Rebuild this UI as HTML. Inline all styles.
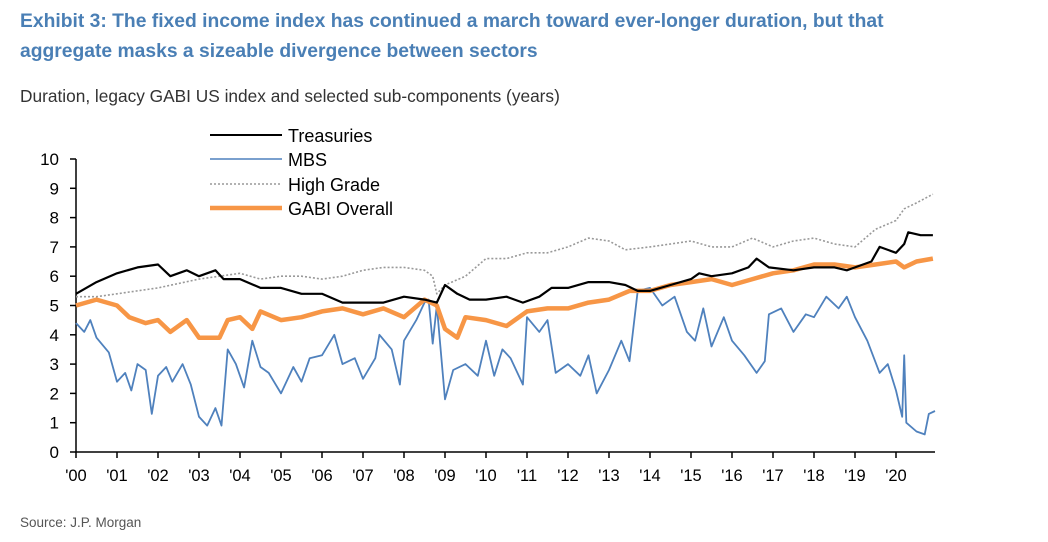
<!DOCTYPE html>
<html><head><meta charset="utf-8">
<style>
body{margin:0;width:1048px;height:542px;background:#fff;font-family:"Liberation Sans",Arial,sans-serif;overflow:hidden;position:relative}
.title{position:absolute;left:20px;top:7px;color:#4a7fb5;font-weight:bold;font-size:19.3px;line-height:30px;white-space:nowrap}
.sub{position:absolute;left:20px;top:86px;color:#333;font-size:17.3px;white-space:nowrap}
.src{position:absolute;left:20px;top:515px;color:#555;font-size:13.5px}
svg{position:absolute;left:0;top:0}
</style></head><body>
<div class="title">Exhibit 3: The fixed income index has continued a march toward ever-longer duration, but that<br>aggregate masks a sizeable divergence between sectors</div>
<div class="sub">Duration, legacy GABI US index and selected sub-components (years)</div>
<div class="src">Source: J.P. Morgan</div>
<svg id="c" width="1048" height="542"></svg>
<script>
const yTicks=[0,1,2,3,4,5,6,7,8,9,10];
const yearLabels=["'00","'01","'02","'03","'04","'05","'06","'07","'08","'09","'10","'11","'12","'13","'14","'15","'16","'17","'18","'19","'20"];
const trT=[2000,2000.5,2001,2001.5,2002,2002.3,2002.7,2003,2003.4,2003.6,2004,2004.5,2005,2005.5,2006,2006.5,2007,2007.5,2008,2008.5,2008.8,2009,2009.3,2009.6,2010,2010.5,2010.9,2011.3,2011.6,2012,2012.5,2013,2013.4,2013.7,2014,2014.5,2015,2015.2,2015.5,2016,2016.4,2016.6,2016.9,2017.5,2018,2018.5,2018.8,2019,2019.4,2019.6,2020,2020.2,2020.3,2020.6,2020.9];
const trV=[5.4,5.8,6.1,6.3,6.4,6.0,6.2,6.0,6.2,5.9,5.9,5.6,5.6,5.4,5.4,5.1,5.1,5.1,5.3,5.2,5.1,5.7,5.4,5.2,5.2,5.3,5.1,5.3,5.6,5.6,5.8,5.8,5.7,5.5,5.5,5.7,5.9,6.1,6.0,6.1,6.3,6.6,6.3,6.2,6.3,6.3,6.2,6.3,6.5,7.0,6.8,7.1,7.5,7.4,7.4];
const hgT=[2000,2000.5,2001,2002,2003,2003.5,2004,2004.5,2005,2005.5,2006,2006.5,2007,2007.5,2008,2008.5,2008.7,2008.8,2009,2009.5,2010,2010.5,2011,2011.5,2012,2012.5,2013,2013.4,2014,2014.5,2015,2015.5,2016,2016.5,2017,2017.5,2018,2018.5,2019,2019.5,2020,2020.2,2020.5,2020.9];
const hgV=[5.3,5.3,5.4,5.6,5.9,6.0,6.1,5.9,6.0,6.0,5.9,6.0,6.2,6.3,6.3,6.2,6.0,5.4,5.7,6.0,6.6,6.6,6.8,6.8,7.0,7.3,7.2,6.9,7.0,7.1,7.2,7.0,7.0,7.3,7.0,7.2,7.3,7.1,7.0,7.6,7.9,8.3,8.5,8.8];
const gaT=[2000,2000.5,2001,2001.3,2001.7,2002,2002.3,2002.7,2003,2003.5,2003.7,2004,2004.3,2004.5,2005,2005.5,2006,2006.5,2007,2007.5,2008,2008.5,2008.8,2009,2009.3,2009.5,2010,2010.5,2011,2011.5,2012,2012.5,2013,2013.5,2014,2014.5,2015,2015.5,2016,2016.5,2017,2017.5,2018,2018.5,2019,2019.5,2020,2020.2,2020.5,2020.9];
const gaV=[5.0,5.2,5.0,4.6,4.4,4.5,4.1,4.5,3.9,3.9,4.5,4.6,4.2,4.8,4.5,4.6,4.8,4.9,4.7,4.9,4.6,5.2,5.0,4.2,3.9,4.6,4.5,4.3,4.8,4.9,4.9,5.1,5.2,5.5,5.5,5.7,5.8,5.9,5.7,5.9,6.1,6.2,6.4,6.4,6.3,6.4,6.5,6.3,6.5,6.6];
const mbT=[2000,2000.2,2000.35,2000.5,2000.8,2001,2001.2,2001.35,2001.5,2001.7,2001.85,2002,2002.2,2002.35,2002.6,2002.8,2003,2003.2,2003.4,2003.55,2003.7,2003.9,2004.1,2004.3,2004.5,2004.7,2005,2005.3,2005.5,2005.7,2006,2006.3,2006.5,2006.8,2007,2007.3,2007.4,2007.7,2007.9,2008,2008.3,2008.5,2008.6,2008.7,2008.8,2009,2009.2,2009.5,2009.8,2010,2010.2,2010.4,2010.6,2010.9,2011,2011.3,2011.5,2011.7,2012,2012.3,2012.5,2012.7,2013,2013.3,2013.5,2013.7,2014,2014.3,2014.6,2014.9,2015.1,2015.3,2015.5,2015.8,2016,2016.3,2016.6,2016.8,2016.9,2017.2,2017.5,2017.8,2018,2018.3,2018.6,2018.8,2019,2019.3,2019.6,2019.8,2020,2020.15,2020.2,2020.25,2020.5,2020.7,2020.8,2020.95];
const mbV=[4.4,4.1,4.5,3.9,3.4,2.4,2.7,2.1,3.0,2.8,1.3,2.6,2.9,2.4,3.0,2.3,1.2,0.9,1.5,0.9,3.5,3.0,2.2,3.8,2.9,2.7,2.0,2.9,2.4,3.2,3.3,4.0,3.0,3.2,2.5,3.2,4.0,3.5,2.3,3.8,4.5,5.1,5.2,3.7,5.0,1.8,2.8,3.0,2.6,3.8,2.6,3.5,3.2,2.3,4.6,4.1,4.5,2.7,3.0,2.6,3.3,2.0,2.8,3.8,3.1,5.5,5.6,5.0,5.3,4.1,3.8,4.9,3.6,4.6,3.8,3.3,2.7,3.1,4.7,4.9,4.1,4.7,4.6,5.3,4.9,5.3,4.6,3.8,2.7,3.0,2.1,1.2,3.3,1.0,0.7,0.6,1.3,1.4];

const NS="http://www.w3.org/2000/svg",svg=document.getElementById('c');
const X0=76,YW=41,Y0=452,YU=29.3;
const xs=t=>X0+(t-2000)*YW, ys=v=>Y0-v*YU;
function mk(tag,attrs,parent){const e=document.createElementNS(NS,tag);for(const k in attrs)e.setAttribute(k,attrs[k]);(parent||svg).appendChild(e);return e;}
function line(T,V,color,w,dash,name){
  const d=T.map((t,i)=>(i?'L':'M')+xs(t).toFixed(1)+' '+ys(V[i]).toFixed(1)).join('');
  const p=mk('path',{d:d,fill:'none',stroke:color,'stroke-width':w,'stroke-linejoin':'round'});
  if(dash)p.setAttribute('stroke-dasharray',dash);
  
  
}
const ax=mk('path',{d:`M${X0} ${ys(10)}V${Y0}H935`,stroke:'#000','stroke-width':1.5,fill:'none'});


yTicks.forEach(v=>{
  mk('line',{x1:X0-6,x2:X0,y1:ys(v),y2:ys(v),stroke:'#000','stroke-width':1.5});
  const t=mk('text',{x:X0-17,y:ys(v)+6,'text-anchor':'end','font-size':17,fill:'#000'});
  t.textContent=v;
  
  
});
yearLabels.forEach((l,i)=>{
  const x=xs(2000+i);
  mk('line',{x1:x,x2:x,y1:Y0,y2:Y0+6,stroke:'#000','stroke-width':1.5});
  const t=mk('text',{x:x,y:Y0+29,'text-anchor':'middle','font-size':16.5,fill:'#000'});
  t.textContent=l;
  
  
});
line(hgT,hgV,'#999',1.6,'2 2','series-high-grade');
line(mbT,mbV,'#4f81bd',1.8,null,'series-mbs');
line(gaT,gaV,'#f79646',4.5,null,'series-gabi-overall');
line(trT,trV,'#000',2.2,null,'series-treasuries');
const leg=[['Treasuries','#000',2,null,135],['MBS','#4f81bd',1.6,null,159],['High Grade','#999',1.6,'2 2',184],['GABI Overall','#f79646',4.5,null,208]];
leg.forEach(l=>{
  const g=mk('g',{});
  
  
  const ln=mk('line',{x1:210,x2:282,y1:l[4],y2:l[4],stroke:l[1],'stroke-width':l[2]},g);
  if(l[3])ln.setAttribute('stroke-dasharray',l[3]);
  const t=mk('text',{x:288,y:l[4]+7,'font-size':18,fill:'#000'},g);
  t.textContent=l[0];
});
</script>
</body></html>
